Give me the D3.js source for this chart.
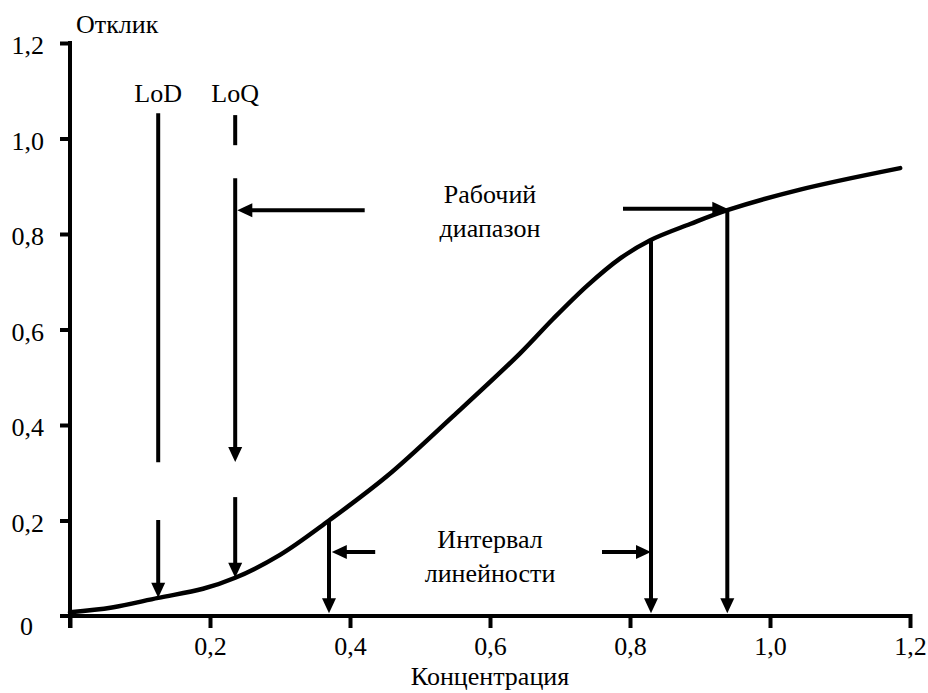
<!DOCTYPE html>
<html><head><meta charset="utf-8">
<script src="https://cdn.jsdelivr.net/npm/d3@7"></script>
<style>
html,body{margin:0;padding:0;background:#fff;}
</style></head>
<body>
<svg id="chart" width="928" height="693"></svg>
<script>
// ---- data ----
const concentration = [0, 0.06, 0.126, 0.19, 0.236, 0.30, 0.37, 0.453, 0.547, 0.643, 0.69, 0.739, 0.786, 0.829, 0.886, 0.939, 1.043, 1.186];
const response      = [0.008, 0.018, 0.038, 0.057, 0.08, 0.128, 0.2, 0.293, 0.418, 0.55, 0.622, 0.692, 0.749, 0.787, 0.821, 0.85, 0.893, 0.938];
const xTicks = [0, 0.2, 0.4, 0.6, 0.8, 1.0, 1.2];
const yTicks = [0, 0.2, 0.4, 0.6, 0.8, 1.0, 1.2];
const xTickLabels = ["", "0,2", "0,4", "0,6", "0,8", "1,0", "1,2"];
const yTickLabels = ["0", "0,2", "0,4", "0,6", "0,8", "1,0", "1,2"];
const lodValue = 0.126, loqValue = 0.236;
// annotation segments in data units: [x1, y1, x2, y2, arrowAtEnd]
const segments = [
  [lodValue, 1.053, lodValue, 0.322, false],
  [lodValue, 0.201, lodValue, 0.038, true],
  [loqValue, 1.049, loqValue, 0.986, false],
  [loqValue, 0.917, loqValue, 0.3225, true],
  [loqValue, 0.249, loqValue, 0.08, true],
  [0.37, 0.2, 0.37, 0.006, true],
  [0.83, 0.787, 0.83, 0.006, true],
  [0.939, 0.85, 0.939, 0.006, true],
  [0.421, 0.85, 0.239, 0.85, true],
  [0.79, 0.853, 0.939, 0.853, true],
  [0.436, 0.134, 0.374, 0.134, true],
  [0.76, 0.134, 0.83, 0.134, true]
];
// labels in data units: [text, x, y]
const labels = [
  ["LoD", lodValue, 1.076],
  ["LoQ", loqValue, 1.076],
  ["Рабочий", 0.6, 0.865],
  ["диапазон", 0.6, 0.794],
  ["Интервал", 0.6, 0.142],
  ["линейности", 0.6, 0.071]
];
const xTitle = "Концентрация", yTitle = "Отклик";

// ---- drawing ----
const svg = d3.select("#chart");
const x = d3.scaleLinear().domain([0, 1.2]).range([70, 910]);
const y = d3.scaleLinear().domain([0, 1.2]).range([616, 43]);
const FS = 26, SW = 4;
const FONT = "Liberation Serif";

const gx = svg.append("g").attr("transform", `translate(0,${y(0)})`)
  .call(d3.axisBottom(x).tickValues(xTicks).tickSize(12).tickSizeOuter(0)
    .tickFormat((d,i) => xTickLabels[i]).tickPadding(9));
gx.select(".domain").attr("d", `M${x(0)-10},0H${x(1.2)+2}`);
const gy = svg.append("g").attr("transform", `translate(${x(0)},0)`)
  .call(d3.axisLeft(y).tickValues(yTicks).tickSize(10).tickSizeOuter(0)
    .tickFormat((d,i) => yTickLabels[i]).tickPadding(16));
gy.select(".domain").attr("d", `M0,${y(1.2)-2}V${y(0)+12}`);
[gx, gy].forEach(g => {
  g.attr("font-family", FONT).attr("font-size", FS);
  g.selectAll(".domain, .tick line").attr("stroke", "#000").attr("stroke-width", SW);
  g.selectAll("text").attr("fill", "#000").attr("font-size", FS).attr("font-family", FONT);
});
gx.selectAll(".tick line").attr("y1", -2);
gy.selectAll(".tick line").attr("x1", 2);
gy.selectAll("text").attr("dy", "0.42em");
gy.selectAll(".tick").filter(d => d === 0).select("text")
  .attr("x", -37).attr("dy", "0.72em");
gy.selectAll(".tick").filter(d => d === 0).select("line").remove();

// curve
const pts = concentration.map((c, i) => [c, response[i]]);
svg.append("path").datum(pts)
  .attr("d", d3.line().x(d => x(d[0])).y(d => y(d[1])).curve(d3.curveCatmullRom.alpha(0.5)))
  .attr("fill", "none").attr("stroke", "#000").attr("stroke-width", 4.5)
  .attr("stroke-linecap", "round");

// arrows / lines
const AL = 15, AW = 7;
segments.forEach(([x1, y1, x2, y2, arrow]) => {
  const X1 = x(x1), Y1 = y(y1), X2 = x(x2), Y2 = y(y2);
  const dx = X2 - X1, dy = Y2 - Y1, len = Math.hypot(dx, dy);
  const ux = dx / len, uy = dy / len;
  const endX = arrow ? X2 - ux * (AL - 2) : X2, endY = arrow ? Y2 - uy * (AL - 2) : Y2;
  svg.append("line").attr("x1", X1).attr("y1", Y1).attr("x2", endX).attr("y2", endY)
    .attr("stroke", "#000").attr("stroke-width", SW);
  if (arrow) {
    const bx = X2 - ux * AL, by = Y2 - uy * AL;
    svg.append("path")
      .attr("d", `M${X2},${Y2}L${bx - uy * AW},${by + ux * AW}L${bx + uy * AW},${by - ux * AW}Z`)
      .attr("fill", "#000");
  }
});

// labels
svg.selectAll("text.lab").data(labels).join("text").attr("class", "lab")
  .attr("x", d => x(d[1])).attr("y", d => y(d[2]))
  .attr("text-anchor", "middle").attr("font-size", FS).attr("fill", "#000")
  .attr("font-family", FONT)
  .text(d => d[0]);

svg.append("text").attr("x", x(0) + 6).attr("y", 33).attr("font-size", FS)
  .attr("font-family", FONT).text(yTitle);
svg.append("text").attr("x", x(0.6)).attr("y", 685).attr("text-anchor", "middle")
  .attr("font-size", FS).attr("font-family", FONT).text(xTitle);
</script>
</body></html>
